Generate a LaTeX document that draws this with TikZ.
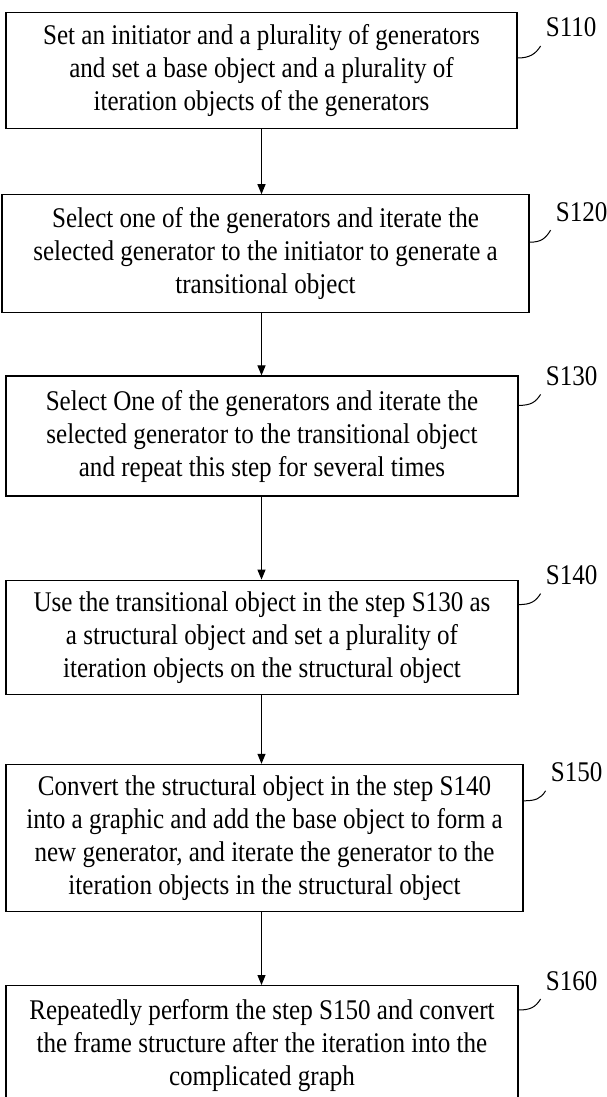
\documentclass[tikz,border=0pt]{standalone}
\usepackage{fontspec}
\setmainfont[FakeStretch=0.88]{Liberation Serif}
\usetikzlibrary{arrows.meta,positioning}
\newcommand\stepfont{\fontsize{28.5}{33}\selectfont}
\tikzset{
  stepbox/.style={draw,line width=1.2pt,align=center,inner sep=0pt,font=\stepfont},
  steparrow/.style={-{Triangle[length=10pt,width=8pt]},line width=1.1pt},
  stepmark/.style={anchor=base west,inner sep=0pt,font=\stepfont},
  leader/.style={line width=1pt}
}

\begin{document}
\begin{tikzpicture}[x=1pt,y=1pt]
\useasboundingbox (0,0) rectangle (607,-1097);
\begin{scope}
\clip (0,0) rectangle (607,-1097);
\node[stepbox, minimum width=511pt, minimum height=116pt, anchor=north] (s110) at (261.5,-12) {Set an initiator and a plurality of generators\\and set a base object and a plurality of\\iteration objects of the generators};
\node[stepbox, minimum width=527pt, minimum height=118pt, below=65pt of s110, xshift=4pt] (s120) {Select one of the generators and iterate the\\selected generator to the initiator to generate a\\transitional object};
\node[stepbox, minimum width=512pt, minimum height=120pt, below=62pt of s120, xshift=-3.5pt] (s130) {Select One of the generators and iterate the\\selected generator to the transitional object\\and repeat this step for several times};
\node[stepbox, minimum width=512pt, minimum height=114pt, below=83pt of s130] (s140) {Use the transitional object in the step S130 as\\a structural object and set a plurality of\\iteration objects on the structural object};
\node[stepbox, minimum width=517pt, minimum height=147pt, below=69pt of s140, xshift=2.5pt] (s150) {Convert the structural object in the step S140\\into a graphic and add the base object to form a\\new generator, and iterate the generator to the\\iteration objects in the structural object};
\node[stepbox, minimum width=512pt, minimum height=120pt, below=73pt of s150, xshift=-2.5pt] (s160) {Repeatedly perform the step S150 and convert\\the frame structure after the iteration into the\\complicated graph};
\end{scope}
% step numbers
\node[stepmark] (m110) at ([shift={(28,-25)}]s110.north east) {S110};
\node[stepmark] (m120) at ([shift={(26,-27)}]s120.north east) {S120};
\node[stepmark] (m130) at ([shift={(27,-10)}]s130.north east) {S130};
\node[stepmark] (m140) at ([shift={(27,-5)}]s140.north east) {S140};
\node[stepmark] (m150) at ([shift={(27,-18)}]s150.north east) {S150};
\node[stepmark] (m160) at ([shift={(27,-5)}]s160.north east) {S160};
\foreach \s/\d in {110/46,120/48,130/30,140/25,150/37,160/25}
  \draw[leader] ([yshift=-\d pt]s\s.north east) .. controls +(12,0) and +(-5,-8) .. ([shift={(-5,-9)}]m\s.base west);
% arrows
\draw[steparrow] (s110.south) -- (s110.south |- s120.north);
\draw[steparrow] (s120.south -| s110) -- (s130.north -| s110);
\draw[steparrow] (s130.south -| s110) -- (s140.north -| s110);
\draw[steparrow] (s140.south -| s110) -- (s150.north -| s110);
\draw[steparrow] (s150.south -| s110) -- (s160.north -| s110);
\end{tikzpicture}
\end{document}
